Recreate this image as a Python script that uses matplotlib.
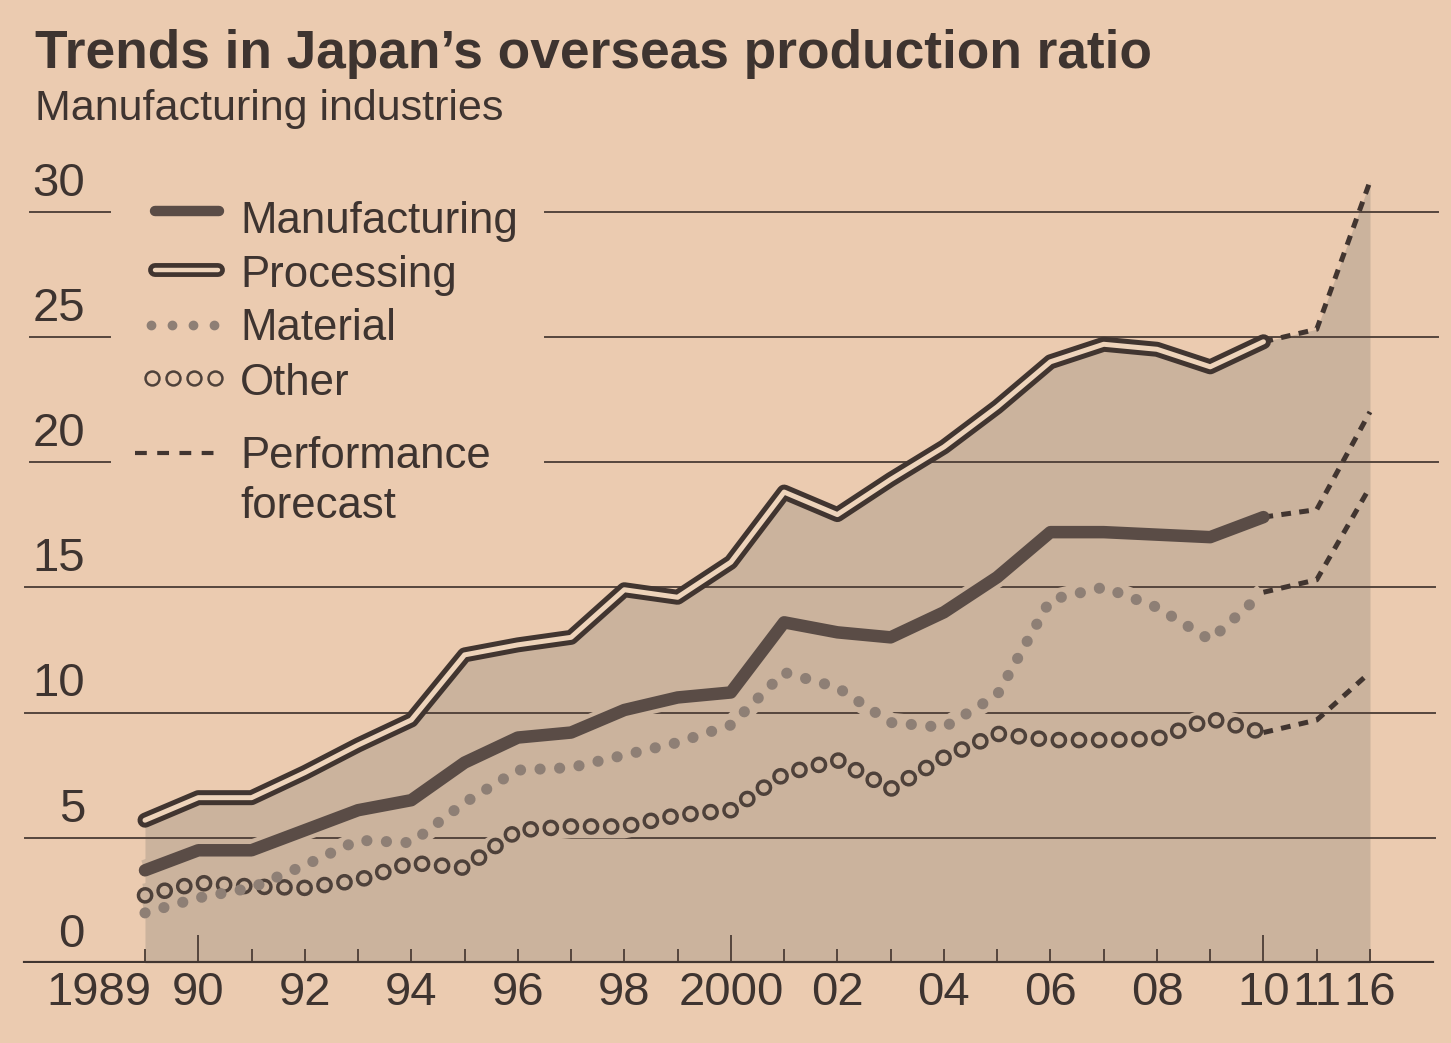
import matplotlib
matplotlib.use('Agg')
import matplotlib.pyplot as plt
from matplotlib.lines import Line2D
import matplotlib.transforms as mtransforms
import numpy as np

plt.rcParams['lines.scale_dashes'] = False
plt.rcParams['font.family'] = ['Liberation Sans', 'DejaVu Sans']

W, H = 1451, 1043

# ---------------- data ----------------
year_labels = ['1989', '90', '', '92', '', '94', '', '96', '', '98', '', '2000',
               '', '02', '', '04', '', '06', '', '08', '', '10', '11', '16']
actual_years = list(range(1989, 2011))
forecast_years = [2011, 2016]

processing = [5.7, 6.6, 6.6, 7.6, 8.7, 9.7, 12.3, 12.7, 13.0, 14.9, 14.6, 16.0,
              18.8, 17.9, 19.3, 20.6, 22.2, 24.0, 24.7, 24.5, 23.8, 24.8]
manufacturing = [3.7, 4.5, 4.5, 5.3, 6.1, 6.5, 8.0, 9.0, 9.2, 10.1, 10.6, 10.8,
                 13.6, 13.2, 13.0, 14.0, 15.4, 17.2, 17.2, 17.1, 17.0, 17.8]
material = [2.0, 2.6, 3.0, 3.9, 4.9, 4.8, 6.4, 7.7, 7.8, 8.3, 8.8, 9.5,
            11.6, 11.0, 9.6, 9.4, 10.7, 14.5, 15.0, 14.2, 12.9, 14.8]
other = [2.7, 3.2, 3.05, 3.0, 3.3, 4.0, 3.8, 5.3, 5.45, 5.45, 5.9, 6.1,
         7.55, 8.1, 6.95, 8.2, 9.15, 8.9, 8.9, 8.95, 9.75, 9.2]

processing_fc = [25.3, 31.2]
manufacturing_fc = [18.1, 22.0]
material_fc = [15.3, 19.0]
other_fc = [9.7, 11.6]

y_ticks = [0, 5, 10, 15, 20, 25, 30]

# ---------------- style ----------------
PAPER = '#ebcbb0'
SHADE = '#cbb39d'
DARK = '#413530'
MANUF = '#5a4c46'
MAT = '#8e7f75'
RING = '#4e413a'
TEXT = '#3e3430'
GRID = '#55463d'
LIGHT = '#eed4bb'

fig = plt.figure(figsize=(W / 100, H / 100), dpi=100)
fig.patch.set_facecolor(PAPER)

x0_px, step_px = 145, 53.26
y0_px, ppu = 963, 25.05
top_px = 150
ax = fig.add_axes([0, (H - y0_px) / H, 1, (y0_px - top_px) / H])
ax.set_facecolor('none')
ax.set_xlim(-x0_px / step_px, (W - x0_px) / step_px)
ax.set_ylim(0, (y0_px - top_px) / ppu)
for s in ax.spines.values():
    s.set_visible(False)

n_act = len(actual_years)
xa = np.arange(n_act)
xf = np.arange(n_act - 1, n_act + len(forecast_years))
x_all = np.arange(n_act + len(forecast_years))

# shaded area under processing (actual + forecast)
ax.fill_between(x_all, 0, processing + processing_fc, color=SHADE, lw=0, zorder=1)

# gridlines
for v in y_ticks[1:]:
    if v <= 15:
        ax.axhline(v, xmin=25 / W, xmax=1435 / W, color=GRID, lw=1.4, zorder=2)
    else:
        ax.axhline(v, xmin=30 / W, xmax=110 / W, color=GRID, lw=1.4, zorder=2)
        ax.axhline(v, xmin=545 / W, xmax=1438 / W, color=GRID, lw=1.4, zorder=2)
ax.axhline(0, xmin=25 / W, xmax=1432 / W, color=DARK, lw=3, zorder=8)

# y labels above the gridlines
ytrans = mtransforms.blended_transform_factory(fig.transFigure, ax.transData) + \
    mtransforms.ScaledTranslation(0, 16 / 100, fig.dpi_scale_trans)
for v in y_ticks:
    ax.text(85 / W, v, str(v), transform=ytrans, ha='right', va='baseline',
            fontsize=34, color=TEXT)

# x ticks
ax.set_xticks(x_all)
ax.set_xticklabels(year_labels, fontsize=34, color=TEXT)
ax.tick_params(axis='x', direction='in', length=10, width=1.4, color=GRID, pad=6)
ax.tick_params(axis='y', left=False, labelleft=False)
for lab, t in zip(year_labels, ax.xaxis.get_major_ticks()):
    if lab in ('90', '2000', '10'):
        t.tick1line.set_markersize(20)
first = ax.xaxis.get_major_ticks()[0].label1
first.set_horizontalalignment('right')
first.set_transform(first.get_transform() +
                    mtransforms.ScaledTranslation(6 / 100, 0, fig.dpi_scale_trans))

# halos (knock out gridlines around lines)
for s, w in ((manufacturing, 15), (material, 14), (other, 17)):
    ax.plot(xa, s, color=SHADE, lw=w, solid_capstyle='butt',
            solid_joinstyle='round', zorder=3)

# forecasts
for s, fc in ((processing, processing_fc), (manufacturing, manufacturing_fc),
              (material, material_fc), (other, other_fc)):
    ax.plot(xf, [s[-1]] + fc, color=DARK, lw=3.6, dashes=(7, 6),
            dash_capstyle='butt', zorder=4)

# other: hollow rings
ax.plot(xa, other, color=RING, lw=12, dashes=(0.1, 14.4), dash_capstyle='round', zorder=5)
ax.plot(xa, other, color=SHADE, lw=7, dashes=(0.1, 14.4), dash_capstyle='round', zorder=5.1)
# material: filled dots
ax.plot(xa, material, color=MAT, lw=8, dashes=(0.1, 14.0), dash_capstyle='round', zorder=5.2)
# manufacturing: thick line
ax.plot(xa, manufacturing, color=MANUF, lw=9, solid_capstyle='round',
        solid_joinstyle='round', zorder=5.3)
# processing: double line
ax.plot(xa, processing, color=DARK, lw=10.8, solid_capstyle='round',
        solid_joinstyle='round', zorder=6)
ax.plot(xa, processing, color=LIGHT, lw=3.6, solid_capstyle='round',
        solid_joinstyle='round', zorder=6.1)

# ---------------- titles ----------------
def fx(x):
    return x / W


def fy(y):
    return 1 - y / H


fig.text(fx(35), fy(68), 'Trends in Japan\u2019s overseas production ratio',
         fontsize=38.3, fontweight='bold', color=TEXT, va='baseline')
fig.text(fx(35), fy(120), 'Manufacturing industries', fontsize=31,
         color=TEXT, va='baseline')

# ---------------- legend ----------------
fig.add_artist(Line2D([fx(155), fx(219)], [fy(211)] * 2, lw=7.5, color=MANUF,
                      solid_capstyle='round'))
fig.add_artist(Line2D([fx(155), fx(218)], [fy(270)] * 2, lw=10, color=DARK,
                      solid_capstyle='round'))
fig.add_artist(Line2D([fx(155), fx(218)], [fy(270)] * 2, lw=3.2, color=LIGHT,
                      solid_capstyle='round'))
fig.add_artist(Line2D([fx(v) for v in (151, 172, 193, 214)], [fy(325)] * 4,
                      ls='none', marker='o', ms=6, color=MAT))
fig.add_artist(Line2D([fx(v) for v in (152, 173, 194, 215)], [fy(378)] * 4,
                      ls='none', marker='o', ms=10, mfc=PAPER, mec=RING, mew=1.8))
fig.add_artist(Line2D([fx(135), fx(220)], [fy(453)] * 2, lw=3, dashes=(8.5, 7.5),
                      color=DARK))

legend_texts = [('Manufacturing', 233), ('Processing', 287), ('Material', 340),
                ('Other', 395), ('Performance', 468), ('forecast', 518)]
for txt, yb in legend_texts:
    fig.text(fx(240), fy(yb), txt, fontsize=31.5, color=TEXT, va='baseline')

fig.savefig('out.png', dpi=100, facecolor=PAPER)
